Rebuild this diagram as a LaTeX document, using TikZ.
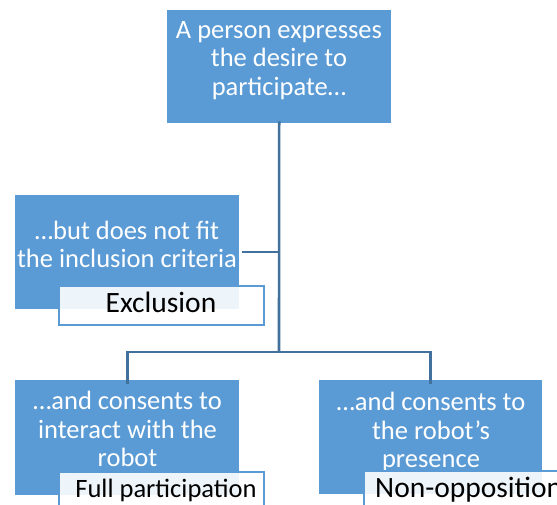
\documentclass[tikz,border=0pt]{standalone}
\usepackage{fontspec}
\setmainfont{Carlito}
\definecolor{boxblue}{HTML}{5B9BD5}
\definecolor{linkblue}{HTML}{41719C}
\begin{document}
\begin{tikzpicture}[x=1pt,y=-1pt,
  bluebox/.style={fill=boxblue, draw=none, anchor=north west, inner sep=0pt},
  boxtext/.style={text=white, align=center, inner sep=0pt, font=\fontsize{26.5}{28.5}\selectfont},
  tagbox/.style={fill=white, fill opacity=0.9, draw=boxblue, line width=2pt, anchor=north west, inner sep=0pt, minimum width=205pt, minimum height=39pt},
  tagtext/.style={text=black, inner sep=0pt, font=\fontsize{26.5}{29}\selectfont},
  bigtag/.style={font=\fontsize{29.5}{32}\selectfont},
  link/.style={draw=linkblue, line width=2.6pt}]
\useasboundingbox (0,0) rectangle (557,504);
\clip (0,0) rectangle (557,504);

% blue boxes
\node[bluebox, minimum width=224pt, minimum height=113pt] (top) at (167,10) {};
\node[bluebox, minimum width=224pt, minimum height=114pt] (mid) at (15,195) {};
\node[bluebox, minimum width=224pt, minimum height=115pt] (bl) at (15,380) {};
\node[bluebox, minimum width=223pt, minimum height=114pt] (br) at (319,380) {};

% texts in blue boxes
\node[boxtext] (toptxt) at (279,60.5) {A person expresses\\the desire to\\participate…};
\node[boxtext] (midtxt) at (127,244.5) {…but does not fit\\the inclusion criteria};
\node[boxtext] (bltxt) at (127.5,429) {…and consents to\\interact with the\\robot};
\node[boxtext] (brtxt) at (431,432) {…and consents to\\the robot’s\\presence};

% connectors
\coordinate (hub) at (279,352);
\coordinate (midjoin) at (279,252);
\draw[link] ([yshift=2pt]top.south) -- (hub);
\draw[link] (midjoin) -- ([xshift=3pt]mid.east |- midjoin);
\draw[link] (hub) -| ([yshift=-4pt]bl.north);
\draw[link] (hub) -| ([yshift=-4pt]br.north);

% tag boxes
\node[tagbox] (excl) at (58,285) {};
\node[tagbox] (full) at (58,471) {};
\node[tagbox] (nonopp) at (363,470) {};
\node[tagtext, bigtag, anchor=base] (excltxt) at (161,312.7) {Exclusion};
\node[tagtext, anchor=base] (fulltxt) at (166,497) {Full participation};
\node[tagtext, bigtag, anchor=base west] (nonopptxt) at (375,497) {Non-opposition};
\end{tikzpicture}
\end{document}
